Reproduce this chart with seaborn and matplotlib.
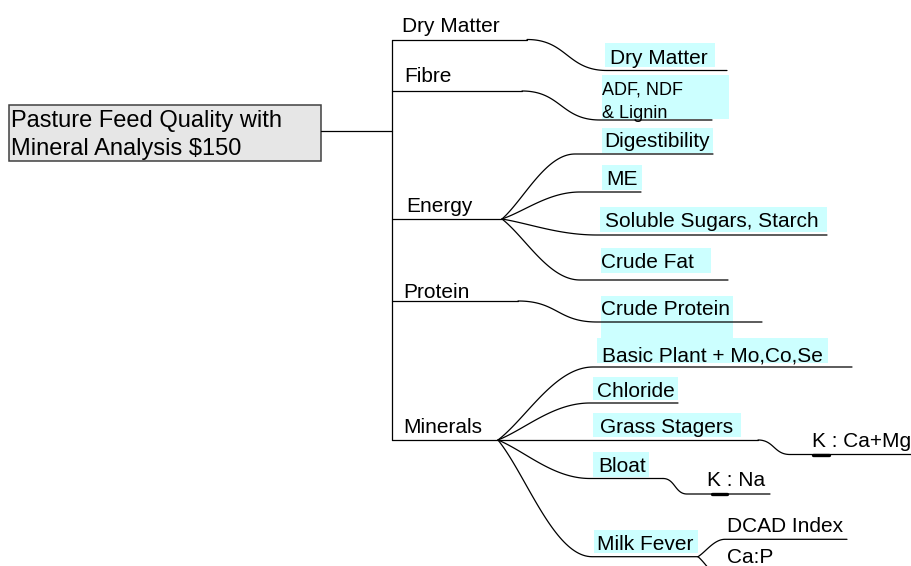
import numpy as np
import pandas as pd
import matplotlib
matplotlib.use("Agg")
import matplotlib.pyplot as plt
from matplotlib.patches import Rectangle
import seaborn as sns

# ---------------- content ----------------
root_lines = ["Pasture Feed Quality with", r"Mineral Analysis \$150"]
groups = ["Dry Matter", "Fibre", "Energy", "Protein", "Minerals"]
dry_matter_items = ["Dry Matter"]
fibre_items = ["ADF, NDF\n& Lignin"]
energy_items = ["Digestibility", "ME", "Soluble Sugars, Starch", "Crude Fat"]
protein_items = ["Crude Protein"]
mineral_items = ["Basic Plant + Mo,Co,Se", "Chloride", "Grass Stagers", "Bloat", "Milk Fever"]
grass_items = ["K : Ca+Mg"]
bloat_items = ["K : Na"]
milk_items = ["DCAD Index", "Ca:P"]

# ---------------- layout (pixel coordinates) ----------------
TRUNK_X = 392
group_pos = {  # label x, baseline, line y
    "Dry Matter": (402, 32, 39.5),
    "Fibre": (404, 82, 91),
    "Energy": (406, 212, 219),
    "Protein": (403, 298, 301),
    "Minerals": (403, 433, 440),
}
# leaf: (box x0, x1, y0, y1), text x, baseline, curve end x, line y, line end x
leaf_pos = {
    ("Dry Matter", "Dry Matter"): ((605, 715, 43, 67), 610, 63.5, 607, 70.5, 727),
    ("Fibre", "ADF, NDF\n& Lignin"): ((602, 729, 75, 119), 602, 94.5, 600, 120, 712),
    ("Energy", "Digestibility"): ((602, 713, 128, 153), 604, 147, 575, 154, 713),
    ("Energy", "ME"): ((602, 642, 165, 190), 606, 185, 580, 192, 641),
    ("Energy", "Soluble Sugars, Starch"): ((600, 827, 207, 232), 605, 227, 597, 235, 827),
    ("Energy", "Crude Fat"): ((601, 711, 248, 273), 601, 268, 580, 280, 728),
    ("Protein", "Crude Protein"): ((601, 733, 296, 338), 601, 315, 597, 322, 762),
    ("Minerals", "Basic Plant + Mo,Co,Se"): ((597, 828, 338, 363), 602, 361, 593, 367, 852),
    ("Minerals", "Chloride"): ((593, 678, 377, 400), 597, 397, 590, 403, 678),
    ("Minerals", "Grass Stagers"): ((593, 741, 413, 437), 600, 433, 500, 440, 758),
    ("Minerals", "Bloat"): ((593, 649, 452, 477), 598, 472, 590, 478.5, 663),
    ("Minerals", "Milk Fever"): ((594, 698, 530, 553), 597, 549.5, 592, 556.7, 698),
}
group_curve_start = {"Dry Matter": 527, "Fibre": 522, "Energy": 502, "Protein": 518, "Minerals": 498}
fan_groups = {"Energy", "Minerals"}
# sub leaves: parent, text x, baseline, curve from (x,y), curve end x, line y, line end x, underline, kind
sub_pos = {
    "K : Ca+Mg": ("Grass Stagers", 812, 447, (758, 440), 790, 454.5, 912, (813, 829), "s"),
    "K : Na": ("Bloat", 707, 486, (663, 478.5), 687, 494, 770, (712, 727), "s"),
    "DCAD Index": ("Milk Fever", 727, 532, (698, 556.7), 725, 539.3, 847, None, "f"),
    "Ca:P": ("Milk Fever", 727, 563, (698, 556.7), 728, 582, 740, None, "f"),
}


def bez(p0, p1, p2, p3, n=50):
    t = np.linspace(0, 1, n)[:, None]
    p0, p1, p2, p3 = map(np.asarray, (p0, p1, p2, p3))
    return (1 - t) ** 3 * p0 + 3 * (1 - t) ** 2 * t * p1 + 3 * (1 - t) * t ** 2 * p2 + t ** 3 * p3


def s_curve(x0, y0, x1, y1):
    dx = x1 - x0
    return bez((x0, y0), (x0 + 0.5 * dx, y0), (x1 - 0.5 * dx, y1), (x1, y1))


def fan_curve(x0, y0, x1, y1):
    dx, dy = x1 - x0, y1 - y0
    return bez((x0, y0), (x0 + 0.3 * dx, y0 + 0.3 * dy), (x1 - 0.4 * dx, y1), (x1, y1))


edges = []
edges.append(np.array([[321, 131], [TRUNK_X, 131]]))
edges.append(np.array([[TRUNK_X, group_pos["Dry Matter"][2]], [TRUNK_X, group_pos["Minerals"][2]]]))

all_items = {"Dry Matter": dry_matter_items, "Fibre": fibre_items, "Energy": energy_items,
             "Protein": protein_items, "Minerals": mineral_items}
for g in groups:
    gy = group_pos[g][2]
    cx = group_curve_start[g]
    edges.append(np.array([[TRUNK_X, gy], [cx, gy]]))
    for item in all_items[g]:
        box, tx, tb, ex, ey, lx = leaf_pos[(g, item)]
        if ey == gy:
            seg = np.array([[cx, gy], [lx, ey]])
        else:
            curve = fan_curve(cx, gy, ex, ey) if g in fan_groups else s_curve(cx, gy, ex, ey)
            seg = np.vstack([curve, [[lx, ey]]])
        edges.append(seg)

thick = []
for name in grass_items + bloat_items + milk_items:
    parent, tx, tb, (sx, sy), ex, ey, lx, ul, kind = sub_pos[name]
    curve = s_curve(sx, sy, ex, ey) if kind == "s" else fan_curve(sx, sy, ex, ey)
    edges.append(np.vstack([curve, [[lx, ey]]]))
    if ul is not None:
        thick.append(np.array([[ul[0], ey], [ul[1], ey]]))

rows = []
for i, e in enumerate(edges):
    for j, (x, y) in enumerate(e):
        rows.append((i, j, x, y))
df = pd.DataFrame(rows, columns=["edge", "order", "x", "y"])
rows = []
for i, e in enumerate(thick):
    for j, (x, y) in enumerate(e):
        rows.append((i, j, x, y))
df_thick = pd.DataFrame(rows, columns=["edge", "order", "x", "y"])

# ---------------- drawing ----------------
sns.set_theme(style="white")
plt.rcParams["font.family"] = ["Liberation Sans", "DejaVu Sans"]
plt.rcParams["text.color"] = "black"

fig = plt.figure(figsize=(9.12, 5.66), dpi=100)
ax = fig.add_axes([0, 0, 1, 1])

sns.lineplot(data=df, x="x", y="y", units="edge", estimator=None, sort=False,
             color="black", linewidth=0.9, ax=ax, zorder=2)
sns.lineplot(data=df_thick, x="x", y="y", units="edge", estimator=None, sort=False,
             color="black", linewidth=2.4, ax=ax, zorder=2)

# root box
ax.add_patch(Rectangle((9, 105), 312, 56, facecolor="#e6e6e6", edgecolor="#404040",
                       linewidth=1.1, zorder=1))
ax.text(11, 127.5, root_lines[0], fontsize=17, va="baseline", ha="left", color="black", zorder=3)
ax.text(11, 155, root_lines[1], fontsize=17, va="baseline", ha="left", color="black", zorder=3)

for g in groups:
    tx, tb, _ = group_pos[g]
    ax.text(tx, tb, g, fontsize=15, va="baseline", ha="left", color="black", zorder=3)

for (g, item), (box, tx, tb, ex, ey, lx) in leaf_pos.items():
    x0, x1, y0, y1 = box
    ax.add_patch(Rectangle((x0, y0), x1 - x0, y1 - y0, facecolor="#ccffff",
                           edgecolor="none", zorder=0))
    if "\n" in item:
        for k, line in enumerate(item.split("\n")):
            ax.text(tx, tb + 24 * k, line, fontsize=13, va="baseline", ha="left",
                    color="black", zorder=3)
    else:
        ax.text(tx, tb, item, fontsize=15, va="baseline", ha="left", color="black", zorder=3)

for name in grass_items + bloat_items + milk_items:
    parent, tx, tb = sub_pos[name][:3]
    ax.text(tx, tb, name, fontsize=15, va="baseline", ha="left", color="black", zorder=3)

ax.set_xlim(0, 912)
ax.set_ylim(566, 0)
ax.axis("off")
ax.set_xlabel("")
ax.set_ylabel("")

fig.savefig("out.png", dpi=100, facecolor="white")
